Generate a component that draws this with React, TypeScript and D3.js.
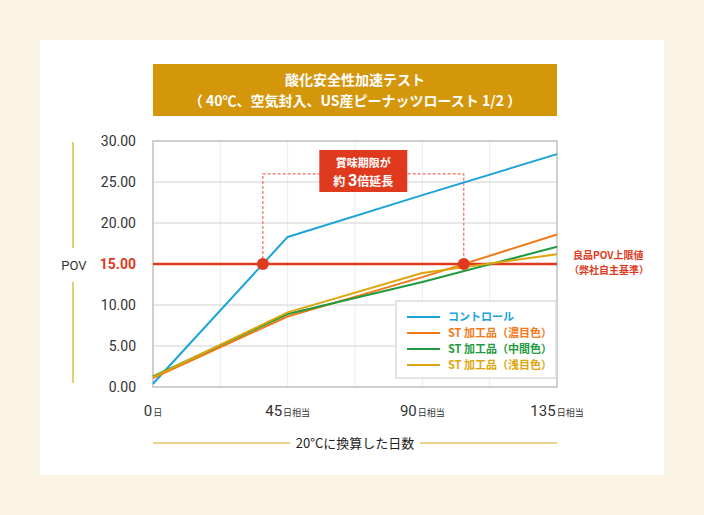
import React from 'react';
import * as d3 from 'd3';

const days = [0, 45, 90, 135];
const control = [0.4, 18.3, 23.4, 28.4];
const stDark = [1.1, 8.6, 13.4, 18.6];
const stMid = [1.3, 8.9, 12.8, 17.1];
const stLight = [1.2, 9.1, 13.9, 16.2];
const yTicks = [0, 5, 10, 15, 20, 25, 30];
const xTicks = [0, 45, 90, 135];
const xTickSuffix = ['日', '日相当', '日相当', '日相当'];
const limit = 15;
const seriesNames = ['コントロール', 'ST 加工品（濃目色）', 'ST 加工品（中間色）', 'ST 加工品（浅目色）'];
const seriesColors = ['#1AA3D9', '#F07A1A', '#1E9A40', '#DDA60C'];

const W = 704, H = 515;
const NUM = "Roboto, 'Noto Sans CJK JP', sans-serif";
const JP = "'Noto Sans CJK JP', sans-serif";

function crossing(vals: number[], level: number) {
  for (let i = 1; i < vals.length; i++) {
    if (vals[i - 1] <= level && vals[i] >= level) {
      const t = (level - vals[i - 1]) / (vals[i] - vals[i - 1]);
      return days[i - 1] + t * (days[i] - days[i - 1]);
    }
  }
  return 0;
}

export default function App() {
  const x = d3.scaleLinear().domain([0, 135]).range([153, 557]);
  const y = d3.scaleLinear().domain([0, 30]).range([387, 141]);
  const series = [control, stDark, stMid, stLight];
  const line = d3.line<number>().x((_, i) => x(days[i])).y(d => y(d));
  const vGrid = d3.range(0, 136, 22.5);
  const d1 = crossing(control, limit);
  const d2 = crossing(stDark, limit);
  const topY = y(26);
  const midX = (x(d1) + x(d2)) / 2;

  return (
    <div style={{ position: 'fixed', left: 0, top: 0 }}>
      <svg width={W} height={H} style={{ display: 'block' }}>
        <rect width={W} height={H} fill="#FBF3E4" />
        <rect x={40} y={40} width={624} height={435} fill="#fff" />

        <rect x={153} y={64} width={404} height={52} fill="#D4960A" />
        <text x={355} y={85} textAnchor="middle" fill="#fff" fontFamily={JP} fontWeight={700} fontSize={14}>酸化安全性加速テスト</text>
        <text x={355} y={106} textAnchor="middle" fill="#fff" fontFamily={JP} fontWeight={700} fontSize={14}>（ 40℃、空気封入、US産ピーナッツロースト 1/2 ）</text>

        {/* grid */}
        {vGrid.map(v => (
          <line key={'v' + v} x1={x(v)} x2={x(v)} y1={y(30)} y2={y(0)} stroke="#ebebeb" strokeWidth={1} />
        ))}
        {yTicks.map(v => (
          <line key={'h' + v} x1={x(0)} x2={x(135)} y1={y(v)} y2={y(v)} stroke="#d0d0d0" strokeWidth={1} />
        ))}
        <rect x={x(0)} y={y(30)} width={x(135) - x(0)} height={y(0) - y(30)} fill="none" stroke="#cfcfcf" strokeWidth={2} />

        {/* y axis */}
        {yTicks.map(v => (
          <text key={'yt' + v} x={136} y={y(v) + 5} textAnchor="end" fontFamily={NUM}
            fontSize={14} fontWeight={v === limit ? 700 : 400} fill={v === limit ? '#E03A1E' : '#333'}>
            {v.toFixed(2)}
          </text>
        ))}
        <line x1={73} x2={73} y1={142} y2={248} stroke="#EACB7E" strokeWidth={2} />
        <line x1={73} x2={73} y1={282} y2={383} stroke="#EACB7E" strokeWidth={2} />
        <text x={74} y={270} textAnchor="middle" fontFamily={NUM} fontSize={13} fill="#333">POV</text>

        {/* x axis */}
        {xTicks.map((v, i) => (
          <text key={'xt' + v} x={x(v)} y={416} textAnchor="middle" fill="#333">
            <tspan fontFamily={NUM} fontSize={15}>{v}</tspan>
            <tspan fontFamily={JP} fontSize={9} dx={1}>{xTickSuffix[i]}</tspan>
          </text>
        ))}
        <line x1={x(0)} x2={290} y1={443} y2={443} stroke="#D9A515" strokeWidth={1} />
        <line x1={420} x2={x(135)} y1={443} y2={443} stroke="#D9A515" strokeWidth={1} />
        <text x={355} y={448} textAnchor="middle" fontFamily={JP} fontSize={13} fill="#222">20°Cに換算した日数</text>

        {/* dashed bracket */}
        <path d={`M${x(d1)},${y(limit)}V${topY}H${x(d2)}V${y(limit)}`} fill="none" stroke="#EB6D5C" strokeWidth={1.2} strokeDasharray="3,2" />

        {/* threshold */}
        <line x1={x(0)} x2={x(135)} y1={y(limit)} y2={y(limit)} stroke="#E03A1E" strokeWidth={2.5} />

        {/* series */}
        {series.map((s, i) => (
          <path key={'s' + i} d={line(s) || ''} fill="none" stroke={seriesColors[i]} strokeWidth={2} strokeLinejoin="round" />
        ))}

        <circle cx={x(d1)} cy={y(limit)} r={6} fill="#E03A1E" />
        <circle cx={x(d2)} cy={y(limit)} r={6} fill="#E03A1E" />

        {/* callout */}
        <rect x={midX - 44} y={150} width={88} height={42} fill="#E03A1E" />
        <text x={midX} y={167} textAnchor="middle" fill="#fff" fontFamily={JP} fontWeight={700} fontSize={11}>賞味期限が</text>
        <text x={midX} y={186} textAnchor="middle" fill="#fff" fontFamily={JP} fontWeight={700} fontSize={12}>
          約 <tspan fontFamily={NUM} fontSize={16}>3</tspan>倍延長
        </text>

        <text x={558} y={259} fill="#E03A1E" fontFamily={JP} fontWeight={700} fontSize={10}>
          <tspan x={573}>良品POV上限値</tspan>
          <tspan x={569} dy={15}>（弊社自主基準）</tspan>
        </text>

        {/* legend */}
        <rect x={396} y={301} width={160} height={77} fill="#fff" stroke="#dcdcdc" strokeWidth={1.5} />
        {seriesNames.map((n, i) => (
          <g key={'lg' + i} transform={`translate(0,${317 + i * 16})`}>
            <line x1={407} x2={440} y1={0} y2={0} stroke={seriesColors[i]} strokeWidth={2} />
            <text x={448} y={4} fill={seriesColors[i]} fontFamily={JP} fontWeight={700} fontSize={11}>{n}</text>
          </g>
        ))}
      </svg>
    </div>
  );
}
